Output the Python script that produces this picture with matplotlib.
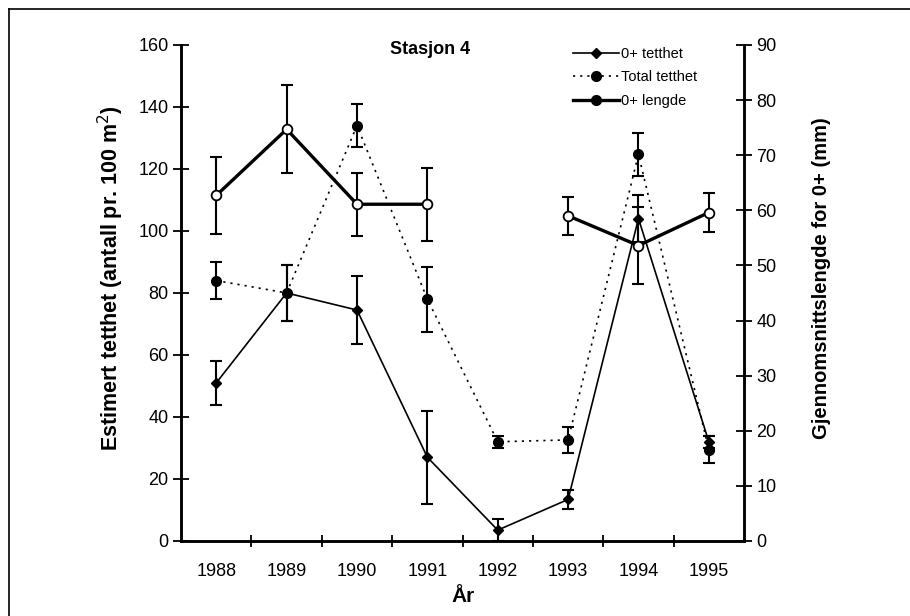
import matplotlib
matplotlib.use("Agg")
import matplotlib.pyplot as plt
import numpy as np
from matplotlib.lines import Line2D

plt.rcParams["font.family"] = ["Liberation Sans", "DejaVu Sans"]

years = ["1988", "1989", "1990", "1991", "1992", "1993", "1994", "1995"]

# 0+ tetthet (venstre akse)
tetthet_0 = [51, 80, 74.5, 27, 3.5, 13.4, 104, 32]
tetthet_0_err = [7, 9, 11, 15, 3.5, 3, 7.5, 2]

# Total tetthet (venstre akse)
tetthet_tot = [84, 80, 134, 78, 32, 32.6, 124.7, 29.5]
tetthet_tot_err = [6, 9, 7, 10.5, 2, 4.3, 7, 4.5]

# 0+ lengde (høyre akse), mangler 1992
lengde = [62.7, 74.7, 61.1, 61.1, np.nan, 59.0, 53.6, 59.6]
lengde_err = [7, 8, 5.7, 6.6, np.nan, 3.5, 7, 3.6]

left_ticks = [0, 20, 40, 60, 80, 100, 120, 140, 160]
right_ticks = [0, 10, 20, 30, 40, 50, 60, 70, 80, 90]

x = np.arange(len(years))

fig = plt.figure(figsize=(9.1, 6.16), dpi=100)
ax = fig.add_axes([0.199, 0.1218, 0.6186, 0.8052])
ax2 = ax.twinx()

# feilstolper
ax.errorbar(x, tetthet_0, yerr=tetthet_0_err, fmt="none", ecolor="black",
            elinewidth=1.5, capsize=4, capthick=1.5, zorder=2)
ax.errorbar(x, tetthet_tot, yerr=tetthet_tot_err, fmt="none", ecolor="black",
            elinewidth=1.5, capsize=4, capthick=1.5, zorder=2)
ax2.errorbar(x, lengde, yerr=lengde_err, fmt="none", ecolor="black",
             elinewidth=1.5, capsize=4, capthick=1.5, zorder=2)

ax.plot(x, tetthet_0, color="black", lw=1.2, marker="D", markersize=5.5,
        markerfacecolor="black", zorder=3)
ax.plot(x, tetthet_tot, color="black", lw=1.2, ls=(0, (1.3, 3)), marker="o",
        markersize=7, markerfacecolor="black", zorder=3)
ax2.plot(x, lengde, color="black", lw=2.4, marker="o", markersize=7,
         markerfacecolor="white", markeredgecolor="black", markeredgewidth=1.3,
         zorder=4)

ax.set_xlim(-0.5, len(years) - 0.5)
ax.set_ylim(0, 160)
ax2.set_ylim(0, 90)
ax.set_yticks(left_ticks)
ax2.set_yticks(right_ticks)

ax.set_xticks(np.arange(0.5, len(years) - 0.5))
ax.set_xticklabels([])
ax.set_xticks(x, minor=True)
ax.set_xticklabels(years, minor=True)
ax.tick_params(axis="x", which="major", direction="inout", length=9, width=1.3)
ax.tick_params(axis="x", which="minor", length=0, pad=16, labelsize=13)
ax.tick_params(axis="y", direction="inout", length=11, width=1.3, labelsize=13)
ax2.tick_params(axis="y", direction="inout", length=11, width=1.3, labelsize=13)

for a in (ax, ax2):
    a.spines["top"].set_visible(False)
    for s in ("left", "right", "bottom"):
        a.spines[s].set_linewidth(1.8)

ax.set_ylabel("Estimert tetthet (antall pr. 100 m$^2$)", fontsize=15.5,
              fontweight="bold")
ax.yaxis.set_label_coords(-0.097, 0.53)
ax2.set_ylabel("Gjennomsnittslengde for 0+ (mm)", fontsize=14.5,
               fontweight="bold")
ax2.yaxis.set_label_coords(1.12, 0.53)
ax.set_xlabel("År", fontsize=15, fontweight="bold", labelpad=5)

ax.text(0.442, 0.99, "Stasjon 4", transform=ax.transAxes, ha="center",
        va="center", fontsize=13, fontweight="bold")

handles = [
    Line2D([], [], color="black", lw=1.2, marker="D", markersize=5),
    Line2D([], [], color="black", lw=1.2, ls=(0, (1.3, 3)), marker="o",
           markersize=7),
    Line2D([], [], color="black", lw=2.4, marker="o", markersize=7),
]
fig.legend(handles, ["0+ tetthet", "Total tetthet", "0+ lengde"],
           loc="upper left", bbox_to_anchor=(0.615, 0.945), frameon=False,
           fontsize=10.5, handlelength=3.2, handletextpad=0.1, labelspacing=0.65)

# ramme rundt figuren
fig.add_artist(Line2D([0.0099, 0.0099], [0.0, 0.985], color="black", lw=1.2))
fig.add_artist(Line2D([0.0099, 1.0], [0.985, 0.985], color="black", lw=1.2))

fig.savefig("out.png", dpi=100)
